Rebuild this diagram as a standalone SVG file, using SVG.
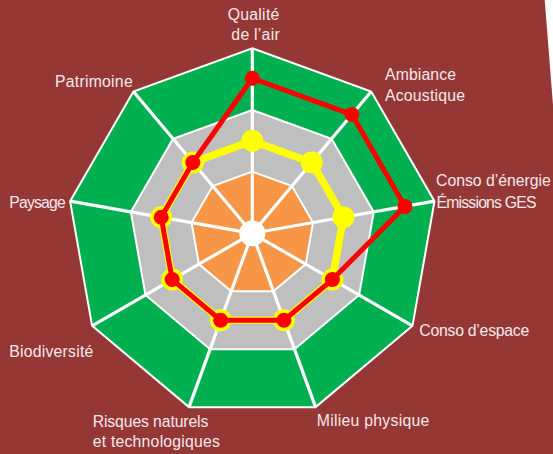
<svg xmlns="http://www.w3.org/2000/svg" width="553" height="454" viewBox="0 0 553 454">
<style>
.lbl{font-family:"Liberation Sans",Arial,sans-serif;font-size:15.8px;fill:#F4E9E9}
.band{stroke:#FFFFFF;stroke-width:2;stroke-linejoin:miter}
.spoke{stroke:#FFFFFF;stroke-width:3.2}
.yl{fill:none;stroke:#FFFF00;stroke-width:7.5;stroke-linejoin:round}
.rl{fill:none;stroke:#FF0000;stroke-width:5;stroke-linejoin:round}
.ym{fill:#FFFF00}
.rm{fill:#FF0000}
</style>
<rect id="background" x="0" y="0" width="553" height="454" fill="#953735"/>
<polygon id="edge-sliver" points="544.7,0 553,0 553,105" fill="#FFFFFF"/>
<g id="chart" transform="translate(252.3,233.3)">
  <g id="bands">
    <polygon id="band-outer" class="band" fill="#00B050" points="0,-185 118.92,-141.72 182.19,-32.12 160.21,92.5 63.27,173.84 -63.27,173.84 -160.21,92.5 -182.19,-32.12 -118.92,-141.72"/>
    <polygon id="band-middle" class="band" fill="#BFBFBF" points="0,-123.33 79.28,-94.48 121.46,-21.42 106.81,61.67 42.18,115.9 -42.18,115.9 -106.81,61.67 -121.46,-21.42 -79.28,-94.48"/>
    <polygon id="band-inner" class="band" fill="#F79646" points="0,-61.67 39.64,-47.24 60.73,-10.71 53.41,30.83 21.09,57.95 -21.09,57.95 -53.41,30.83 -60.73,-10.71 -39.64,-47.24"/>
  </g>
  <g id="connectors">
    <line class="spoke" x1="0" y1="0" x2="0" y2="-185"/>
    <line class="spoke" x1="0" y1="0" x2="118.92" y2="-141.72"/>
    <line class="spoke" x1="0" y1="0" x2="182.19" y2="-32.12"/>
    <line class="spoke" x1="0" y1="0" x2="160.21" y2="92.5"/>
    <line class="spoke" x1="0" y1="0" x2="63.27" y2="173.84"/>
    <line class="spoke" x1="0" y1="0" x2="-63.27" y2="173.84"/>
    <line class="spoke" x1="0" y1="0" x2="-160.21" y2="92.5"/>
    <line class="spoke" x1="0" y1="0" x2="-182.19" y2="-32.12"/>
    <line class="spoke" x1="0" y1="0" x2="-118.92" y2="-141.72"/>
  </g>
  <circle id="center" cx="0" cy="0" r="13" fill="#FFFFFF"/>
  <g id="series-yellow">
    <polygon class="yl" points="0,-92.5 59.46,-70.86 91.09,-16.06 80.11,46.25 31.64,86.92 -31.64,86.92 -80.11,46.25 -91.09,-16.06 -59.46,-70.86"/>
    <circle class="ym" cx="0" cy="-92.5" r="11"/>
    <circle class="ym" cx="59.46" cy="-70.86" r="11"/>
    <circle class="ym" cx="91.09" cy="-16.06" r="11"/>
    <circle class="ym" cx="80.11" cy="46.25" r="11"/>
    <circle class="ym" cx="31.64" cy="86.92" r="11"/>
    <circle class="ym" cx="-31.64" cy="86.92" r="11"/>
    <circle class="ym" cx="-80.11" cy="46.25" r="11"/>
    <circle class="ym" cx="-91.09" cy="-16.06" r="11"/>
    <circle class="ym" cx="-59.46" cy="-70.86" r="11"/>
  </g>
  <g id="series-red">
    <polygon class="rl" points="0,-155 99.63,-118.74 152.65,-26.92 80.11,46.25 31.64,86.92 -31.64,86.92 -80.11,46.25 -91.09,-16.06 -59.46,-70.86"/>
    <circle class="rm" cx="0" cy="-155" r="7.5"/>
    <circle class="rm" cx="99.63" cy="-118.74" r="7.5"/>
    <circle class="rm" cx="152.65" cy="-26.92" r="7.5"/>
    <circle class="rm" cx="80.11" cy="46.25" r="7.5"/>
    <circle class="rm" cx="31.64" cy="86.92" r="7.5"/>
    <circle class="rm" cx="-31.64" cy="86.92" r="7.5"/>
    <circle class="rm" cx="-80.11" cy="46.25" r="7.5"/>
    <circle class="rm" cx="-91.09" cy="-16.06" r="7.5"/>
    <circle class="rm" cx="-59.46" cy="-70.86" r="7.5"/>
  </g>
</g>
<g id="labels">
  <g id="lbl-qualite"><text class="lbl" x="253.5" y="20" text-anchor="middle" textLength="51.7">Qualité</text><text class="lbl" x="255.5" y="39.5" text-anchor="middle" textLength="48.3">de l’air</text></g>
  <g id="lbl-ambiance"><text class="lbl" x="385" y="80" textLength="71">Ambiance</text><text class="lbl" x="385" y="100.5" textLength="80">Acoustique</text></g>
  <g id="lbl-energie"><text class="lbl" x="436" y="186" textLength="114.7">Conso d’énergie</text><text class="lbl" x="436.5" y="207.5" textLength="100">Émissions GES</text></g>
  <g id="lbl-espace"><text class="lbl" x="419.3" y="336" textLength="110">Conso d’espace</text></g>
  <g id="lbl-milieu"><text class="lbl" x="316.7" y="426" textLength="112.7">Milieu physique</text></g>
  <g id="lbl-risques"><text class="lbl" x="92.7" y="426.7" textLength="115.7">Risques naturels</text><text class="lbl" x="92.7" y="446.7" textLength="127.3">et technologiques</text></g>
  <g id="lbl-biodiversite"><text class="lbl" x="9.3" y="357.3" textLength="84">Biodiversité</text></g>
  <g id="lbl-paysage"><text class="lbl" x="9.3" y="208.3" textLength="56.4">Paysage</text></g>
  <g id="lbl-patrimoine"><text class="lbl" x="55" y="87.3" textLength="77.7">Patrimoine</text></g>
</g>
</svg>
